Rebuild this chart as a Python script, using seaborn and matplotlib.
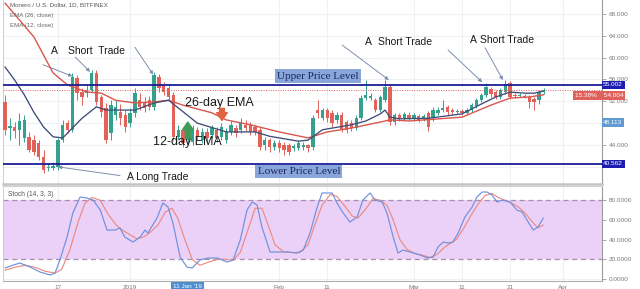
import numpy as np
import matplotlib
matplotlib.use("Agg")
import matplotlib.pyplot as plt
import matplotlib.transforms as mtransforms
import seaborn as sns

# ---------------- data ----------------
opens = [51.9, 47.1, 47.3, 46.8, 45.3, 45.5, 44.9, 44.4, 41.8, 39.8,
         39.8, 40.0, 44.9, 48.0, 46.8, 56.3, 53.7, 53.5, 54.1, 57.2,
         52.8, 50.8, 46.2, 49.5, 50.1, 49.5, 48.0, 49.9, 52.2, 51.9,
         52.2, 51.0, 56.5, 55.0, 54.4, 53.2, 45.5, 46.8, 44.9, 44.6,
         46.8, 44.9, 46.4, 45.8, 46.8, 45.5, 44.9, 46.4, 47.1, 46.8,
         47.7, 47.7, 47.3, 46.8, 44.0, 44.9, 43.6, 44.4, 44.0, 44.0,
         43.5, 43.5, 43.6, 44.0, 43.6, 50.4, 48.9, 50.4, 49.9, 48.6,
         49.5, 48.2, 48.0, 47.1, 48.9, 52.6, 52.6, 52.2, 50.4, 52.2,
         54.6, 48.2, 49.5, 48.9, 49.5, 48.9, 49.3, 48.8, 49.9, 48.9,
         49.9, 50.4, 51.0, 50.4, 50.1, 50.2, 49.9, 50.4, 51.1, 52.2,
         53.2, 54.3, 53.7, 52.8, 53.7, 55.4, 53.2, 53.0, 53.0, 52.8,
         52.4, 52.2, 53.7]
closes = [46.8, 47.5, 46.6, 48.4, 48.6, 43.1, 42.7, 41.8, 39.4, 40.0,
          40.2, 44.9, 47.7, 46.8, 56.5, 53.5, 52.8, 54.1, 57.2, 51.9,
          50.0, 44.9, 51.3, 51.0, 48.9, 47.3, 49.9, 53.5, 51.0, 50.8,
          51.0, 56.8, 54.4, 53.7, 52.8, 45.5, 46.8, 44.4, 46.2, 46.8,
          45.5, 46.4, 45.3, 47.1, 45.3, 47.3, 46.4, 47.7, 46.2, 48.2,
          47.1, 46.4, 46.4, 43.6, 44.9, 43.6, 44.4, 43.5, 43.1, 42.7,
          43.8, 44.4, 44.0, 43.5, 48.9, 49.9, 50.4, 48.9, 48.0, 49.5,
          46.8, 46.8, 47.1, 48.9, 52.6, 53.2, 52.9, 50.4, 52.8, 54.6,
          48.2, 49.5, 48.9, 49.7, 48.9, 49.5, 48.6, 49.3, 47.3, 50.4,
          50.4, 50.8, 50.1, 50.1, 50.2, 49.9, 50.4, 51.3, 52.2, 53.2,
          54.6, 53.3, 52.8, 54.1, 55.2, 52.8, 53.0, 53.2, 52.8, 51.9,
          51.9, 53.7, 54.0]
highs = [53.2, 49.0, 48.2, 49.9, 49.5, 46.4, 45.8, 44.9, 43.1, 40.7,
         40.9, 45.3, 48.6, 48.6, 57.2, 56.8, 54.4, 55.0, 57.7, 57.7,
         53.2, 51.7, 52.2, 52.2, 51.5, 50.4, 50.8, 54.4, 53.5, 52.8,
         53.0, 57.4, 57.0, 55.5, 55.0, 53.7, 47.7, 47.3, 46.8, 47.7,
         47.3, 47.1, 47.1, 47.7, 47.3, 48.0, 47.1, 48.4, 47.7, 49.0,
         48.6, 48.2, 47.7, 47.3, 45.5, 45.3, 44.9, 44.9, 44.6, 44.4,
         44.2, 44.9, 44.6, 44.2, 49.5, 52.2, 50.8, 50.8, 50.4, 50.0,
         50.0, 48.6, 48.6, 49.5, 53.2, 55.9, 53.5, 52.6, 53.2, 55.9,
         55.0, 49.9, 49.9, 50.0, 50.0, 49.9, 49.7, 49.7, 50.2, 51.0,
         51.0, 52.2, 51.3, 50.8, 50.6, 50.6, 50.8, 51.7, 52.6, 53.5,
         55.4, 54.6, 54.1, 54.4, 55.9, 55.7, 53.5, 53.5, 53.3, 53.2,
         52.8, 54.1, 54.4]
lows = [45.8, 44.9, 45.3, 44.0, 44.6, 42.7, 42.2, 41.3, 38.9, 39.2,
        39.4, 39.4, 44.6, 46.2, 46.4, 52.2, 51.3, 52.8, 53.7, 51.3,
        49.1, 44.4, 44.9, 48.6, 47.7, 46.4, 47.3, 49.1, 50.4, 50.0,
        50.4, 50.4, 53.8, 53.2, 52.2, 44.9, 44.9, 43.6, 44.0, 44.0,
        44.9, 44.4, 44.6, 45.3, 44.6, 44.9, 44.4, 45.8, 45.5, 46.2,
        46.6, 45.8, 45.8, 43.1, 43.1, 42.7, 43.1, 42.7, 42.2, 42.2,
        42.9, 43.1, 43.1, 42.7, 43.1, 48.9, 48.6, 48.2, 47.3, 48.0,
        46.4, 46.2, 46.6, 46.8, 48.6, 52.2, 52.2, 50.0, 50.0, 51.9,
        47.7, 47.7, 48.4, 48.6, 48.6, 48.4, 48.2, 48.4, 46.6, 48.4,
        49.5, 50.0, 49.5, 49.7, 49.7, 49.5, 49.5, 50.0, 50.8, 51.9,
        52.8, 52.8, 52.4, 52.4, 53.3, 52.4, 52.6, 52.8, 52.6, 50.8,
        50.4, 51.5, 53.3]

ema26_day = [0, 6, 10, 13, 17, 20, 23, 27, 31, 34, 37, 43, 46, 51, 57,
             63, 67, 72, 78, 80, 84, 95, 101, 105, 109, 112]
ema26 = [70.0, 63.8, 57.2, 55.0, 53.7, 53.5, 52.2, 51.7, 51.9, 52.2, 51.3,
         49.9, 48.6, 47.7, 46.4, 45.3, 46.4, 47.1, 48.2, 48.6, 48.4, 49.1,
         51.3, 52.6, 52.8, 53.2]

ema12_day = [0, 2, 4, 6, 8, 10, 12, 14, 16, 19, 21, 24, 27, 31, 34, 36, 40,
             46, 52, 55, 61, 63, 66, 72, 75, 78, 79, 80, 82, 88, 95, 99, 102,
             105, 108, 110, 112]
ema12 = [58.3, 55.9, 53.2, 50.0, 47.3, 45.5, 45.3, 47.1, 48.9, 51.0, 50.4,
         50.4, 50.4, 51.7, 52.2, 50.8, 48.0, 46.4, 46.4, 45.6, 44.7, 44.9,
         46.8, 47.7, 48.4, 49.7, 50.4, 49.1, 48.8, 48.9, 49.7, 51.5, 52.8,
         53.7, 53.5, 53.5, 53.9]

stoch_k_day = [0, 1.7, 3.1, 5.2, 7.3, 9.4, 10.4, 11.4, 12.9, 14.1, 15.6, 17.0,
               18.3, 19.8, 21.2, 22.9, 23.9, 24.9, 26.6, 28.1, 29.1, 29.7,
               31.6, 32.8, 33.9, 34.9, 36.4, 37.8, 38.9, 40.5, 42.2, 44.1,
               46.2, 47.4, 48.9, 50.3, 51.4, 52.4, 53.4, 55.1, 56.5, 58.6,
               60.7, 62.0, 63.4, 64.9, 65.9, 66.9, 68.0, 69.0, 70.3, 71.7,
               73.2, 74.4, 75.9, 76.9, 78.4, 79.4, 80.7, 81.7, 82.7, 84.2,
               86.3, 87.9, 89.0, 90.0, 91.1, 92.1, 93.1, 94.2, 95.6, 97.1,
               98.1, 99.2, 100.2, 101.2, 102.3, 103.5, 105.0, 106.4, 107.5,
               108.5, 109.8, 110.8, 111.9]
stoch_k = [11.2, 14.2, 16.3, 12.2, 7.1, 4.1, 6.1, 19.3, 42.7, 67.1, 83.4, 82.4,
           80.4, 70.2, 49.8, 49.8, 51.9, 42.7, 37.6, 42.7, 49.8, 46.8, 62.1,
           77.3, 73.2, 57.0, 22.4, 12.2, 11.2, 19.3, 21.4, 21.4, 17.3, 19.3,
           39.7, 70.2, 78.3, 75.3, 52.9, 27.5, 27.5, 27.5, 26.4, 29.5, 46.8,
           73.2, 87.5, 87.5, 87.5, 77.3, 67.1, 58.0, 63.1, 80.4, 87.5, 80.4,
           78.3, 67.1, 42.7, 26.4, 29.5, 27.5, 24.4, 21.4, 22.4, 32.6, 37.6,
           36.6, 37.6, 46.8, 63.1, 73.2, 83.4, 88.5, 88.5, 85.5, 78.3, 80.4,
           78.3, 70.2, 68.2, 60.0, 49.8, 52.9, 62.1]

stoch_d_day = [0, 2.1, 4.2, 6.2, 8.3, 10.4, 11.8, 13.5, 15.2, 16.6, 18.1, 19.8,
               21.4, 23.1, 24.3, 26.0, 27.4, 28.9, 30.1, 31.8, 33.3, 34.7,
               35.9, 37.4, 38.9, 40.5, 42.2, 44.1, 45.7, 47.4, 48.9, 50.5,
               52.0, 53.4, 54.7, 56.1, 57.8, 59.7, 61.3, 63.0, 64.4, 65.9,
               67.6, 69.0, 70.5, 72.2, 73.4, 75.1, 76.5, 78.0, 79.4, 80.7,
               82.1, 83.6, 85.2, 86.9, 88.4, 89.8, 91.3, 92.5, 93.8, 95.4,
               96.9, 98.3, 99.8, 101.2, 102.5, 103.9, 105.4, 106.8, 108.3,
               109.8, 110.8, 111.9]
stoch_d = [9, 12, 14, 12, 8, 6, 10, 30, 58, 77, 83, 80, 66, 55, 50, 45, 41,
           43, 47, 55, 68, 72, 62, 40, 20, 14, 17, 20, 20, 19, 27, 50, 72, 72,
           55, 35, 28, 27, 27, 35, 55, 75, 86, 84, 75, 64, 62, 72, 82, 80, 75,
           60, 40, 30, 26, 24, 22, 25, 32, 36, 40, 52, 65, 76, 85, 87, 83, 80,
           77, 73, 66, 57, 52, 55]

price_ticks = [40, 44, 48, 52, 56, 60, 64, 68]
hidden_price_ticks = [40, 48]
stoch_ticks = [0, 20, 40, 60, 80]
date_ticks = [11, 26, 57, 67, 85, 95, 105, 116]
date_labels = ["17", "2019", "Feb", "11", "Mar", "11", "21", "Apr"]
cursor_day = 38
cursor_label = "11 Jan '19"

upper_level = 55.002
lower_level = 40.562
last_close = 54.004
change_pct = "15.38%"
other_level = 48.113

# ---------------- styling ----------------
sns.set_style("white")
plt.rcParams['font.family'] = ['Liberation Sans', 'DejaVu Sans']

UP = "#34a18d"
DOWN = "#e2625a"
GRID = "#eef0f4"
NAVY = "#1c1c96"

W, H = 640, 289
fig = plt.figure(figsize=(W / 100, H / 100), dpi=100)


def fx(px):
    return px / W


def fy(py):
    return 1 - py / H


ax = fig.add_axes([fx(3), fy(184), fx(602) - fx(3), fy(0) - fy(184)])
ax2 = fig.add_axes([fx(3), fy(281), fx(602) - fx(3), fy(186) - fy(281)])

XMIN, XMAX = -0.42, 124.1
for a in (ax, ax2):
    a.set_xlim(XMIN, XMAX)
    a.set_xticks(date_ticks)
    a.grid(True, color=GRID, lw=0.8, zorder=0)
    a.set_axisbelow(True)
    a.yaxis.tick_right()
    a.tick_params(axis='y', length=3, width=0.6, color='#999999',
                  labelsize=4.6, labelcolor='#7a7a7a', pad=2)
    a.spines['top'].set_visible(False)
    a.spines['left'].set_color('#c8c8c8')
    a.spines['left'].set_linewidth(0.6)
    a.spines['right'].set_color('#9a9a9a')
    a.spines['right'].set_linewidth(0.8)

ax.set_ylim(36.86, 70.56)
ax.set_yticks(price_ticks)
ax.set_yticklabels(["" if t in hidden_price_ticks else f"{t:.3f}"
                    for t in price_ticks])
ax.tick_params(axis='x', length=0, labelbottom=False)
ax.spines['bottom'].set_color('#c4c4c4')
ax.spines['bottom'].set_linewidth(1.8)

# ---------------- candles ----------------
idx = np.arange(len(opens))
o = np.array(opens)
c = np.array(closes)
cols = np.where(c >= o, UP, DOWN)
ax.vlines(idx, lows, highs, colors=cols, lw=0.7, zorder=3)
body = c - o
body = np.where(np.abs(body) < 0.15, np.where(body >= 0, 0.15, -0.15), body)
ax.bar(idx, body, bottom=o, width=0.7, color=cols, linewidth=0, zorder=4)

# EMAs
sns.lineplot(x=ema26_day, y=ema26, ax=ax, color="#d9564e", lw=1.0, zorder=5)
sns.lineplot(x=ema12_day, y=ema12, ax=ax, color="#3f4d78", lw=0.95, zorder=5)

# levels
ax.axhline(upper_level, color=NAVY, lw=1.3, zorder=6)
ax.axhline(lower_level, color=NAVY, lw=1.3, zorder=6)
ax.axhline(last_close, color="#e0605a", lw=0.7, ls=(0, (1, 1.5)), zorder=5)

# right-side value boxes
bt = mtransforms.blended_transform_factory(ax.transAxes, ax.transData)
xr = 1.002
ax.text(xr, upper_level, f"{upper_level:.3f}", transform=bt,
        fontsize=4.6, color='white', va='center', ha='left', clip_on=False,
        zorder=10, bbox=dict(boxstyle='square,pad=0.25', fc='#1d1db0', ec='none'))
ax.text(xr, lower_level, f"{lower_level:.3f}", transform=bt,
        fontsize=4.6, color='white', va='center', ha='left', clip_on=False,
        zorder=10, bbox=dict(boxstyle='square,pad=0.25', fc='#1d1db0', ec='none'))
ax.text(xr, other_level, f"{other_level:.3f}", transform=bt,
        fontsize=4.6, color='white', va='center', ha='left', clip_on=False,
        zorder=10, bbox=dict(boxstyle='square,pad=0.25', fc='#5f9ad0', ec='none'))
ax.text(0.955, 53.07, f"{change_pct}    {last_close:.3f}", transform=bt,
        fontsize=4.6, color='white', va='center', ha='left', clip_on=False,
        zorder=10, bbox=dict(boxstyle='square,pad=0.25', fc='#e0605a', ec='none'))

# ---------------- annotations ----------------
arrow_kw = dict(arrowstyle='-|>', color='#7f8fab', lw=0.7, mutation_scale=5,
                shrinkA=0, shrinkB=0)
tx_kw = dict(fontsize=7.5, color='#1a1a1a', va='center', zorder=12)

ax.text(9.6, 61.2, "A", ha='left', **tx_kw)
ax.text(13.1, 61.2, "Short  Trade", ha='left', **tx_kw)
ax.annotate('', xy=(14.0, 56.6), xytext=(7.9, 58.7), arrowprops=arrow_kw)
ax.annotate('', xy=(17.7, 57.4), xytext=(14.6, 60.1), arrowprops=arrow_kw)
ax.annotate('', xy=(30.8, 56.9), xytext=(27.0, 61.9), arrowprops=arrow_kw)

ax.text(74.8, 62.9, "A", ha='left', **tx_kw)
ax.text(77.5, 62.9, "Short Trade", ha='left', **tx_kw)
ax.annotate('', xy=(79.8, 55.9), xytext=(70.1, 62.3), arrowprops=arrow_kw)

ax.text(96.7, 63.2, "A", ha='left', **tx_kw)
ax.text(98.8, 63.2, "Short Trade", ha='left', **tx_kw)
ax.annotate('', xy=(99.2, 55.5), xytext=(92.1, 61.4), arrowprops=arrow_kw)
ax.annotate('', xy=(103.5, 55.9), xytext=(99.8, 61.8), arrowprops=arrow_kw)

ax.text(25.4, 38.1, "A Long Trade", ha='left', **tx_kw)
ax.annotate('', xy=(11.0, 40.0), xytext=(23.9, 38.4), arrowprops=arrow_kw)

box_kw = dict(boxstyle='square,pad=0.2', fc='#88a6da', ec='none')
ax.text(65.1, 56.6, "Upper Price Level", ha='center', va='center',
        fontsize=8, color='#1b2760', family=['Liberation Serif'],
        bbox=box_kw, zorder=12)
ax.text(61.1, 39.2, "Lower Price Level", ha='center', va='center',
        fontsize=8, color='#1b2760', family=['Liberation Serif'],
        bbox=box_kw, zorder=12)

ax.text(37.4, 51.7, "26-day EMA", ha='left', va='center', fontsize=9,
        color='#1a1a1a', zorder=12)
ax.text(30.8, 44.5, "12-day EMA", ha='left', va='center', fontsize=9,
        color='#1a1a1a', zorder=12)
ax.annotate('', xy=(45.1, 48.5), xytext=(45.1, 50.7),
            arrowprops=dict(arrowstyle='simple,head_width=1.1,head_length=0.8,tail_width=0.5',
                            color='#e2643e', mutation_scale=7, shrinkA=0, shrinkB=0),
            zorder=12)
ax.annotate('', xy=(38.0, 48.2), xytext=(38.0, 45.2),
            arrowprops=dict(arrowstyle='simple,head_width=1.1,head_length=0.8,tail_width=0.5',
                            color='#3e9a58', mutation_scale=7, shrinkA=0, shrinkB=0),
            zorder=12)

# header texts
fig.text(fx(10), fy(5), "Monero / U.S. Dollar, 1D, BITFINEX", fontsize=4.4,
         color='#555555', va='center', ha='left')
fig.text(fx(10), fy(16), "EMA (26, close)", fontsize=4.4, color='#666666',
         va='center', ha='left')
fig.text(fx(10), fy(26), "EMA (12, close)", fontsize=4.4, color='#666666',
         va='center', ha='left')

# ---------------- stochastic panel ----------------
ax2.set_ylim(-2.0, 94.6)
ax2.set_yticks(stoch_ticks)
ax2.set_yticklabels([f"{t:.4f}" for t in stoch_ticks])
ax2.axhspan(20, 80, color='#ebd0f7', zorder=1, lw=0)
ax2.axhline(80, color='#a58fae', lw=0.9, ls=(0, (4, 3)), zorder=2)
ax2.axhline(20, color='#a58fae', lw=0.9, ls=(0, (4, 3)), zorder=2)
sns.lineplot(x=stoch_d_day, y=stoch_d, ax=ax2, color="#ec8c84", lw=0.85,
             zorder=4, sort=False)
sns.lineplot(x=stoch_k_day, y=stoch_k, ax=ax2, color="#7090dc", lw=0.85,
             zorder=5, sort=False)
ax2.spines['bottom'].set_color('#b0b0b0')
ax2.spines['bottom'].set_linewidth(0.8)
ax2.spines['top'].set_visible(True)
ax2.spines['top'].set_color('#d0d0d0')
ax2.spines['top'].set_linewidth(0.8)
ax2.set_xticklabels(date_labels)
ax2.tick_params(axis='x', length=2, width=0.6, color='#999999',
                labelsize=4.6, labelcolor='#777777', pad=1.0)
ax2.set_xlabel('')
ax2.set_ylabel('')
ax.set_xlabel('')
ax.set_ylabel('')
ax2.text(cursor_day, -0.03, cursor_label,
         transform=mtransforms.blended_transform_factory(ax2.transData, ax2.transAxes),
         fontsize=4.6, color='white', ha='center', va='top',
         clip_on=False, zorder=10,
         bbox=dict(boxstyle='square,pad=0.3', fc='#4f8fd0', ec='none'))
ax2.text(0.009, 0.91, "Stoch (14, 3, 3)", transform=ax2.transAxes, fontsize=4.8,
         color='#555555', ha='left', va='center')

fig.savefig("out.png", dpi=100)
